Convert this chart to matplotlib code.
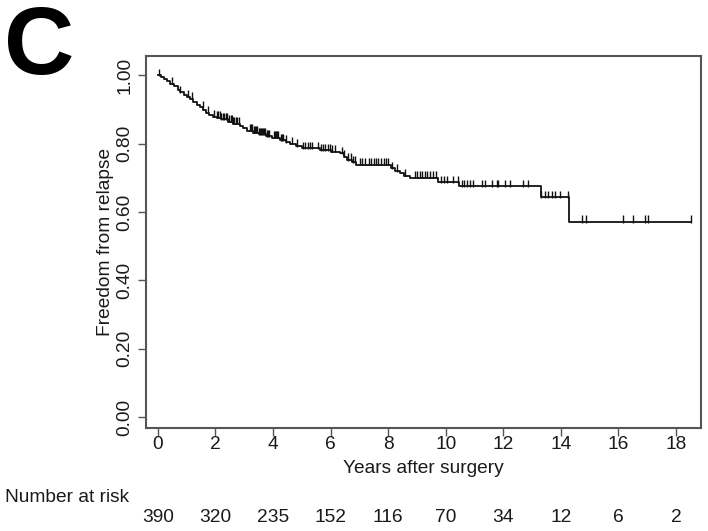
import numpy as np
import matplotlib
matplotlib.use("Agg")
import matplotlib.pyplot as plt
from matplotlib.transforms import blended_transform_factory

plt.rcParams['font.family'] = ['Liberation Sans', 'DejaVu Sans']

# Kaplan-Meier estimate: event times (years) and survival after each step
event_times = [0.10, 0.20, 0.30, 0.42, 0.55, 0.68, 0.76, 0.90, 1.00, 1.11,
               1.22, 1.35, 1.46, 1.58, 1.68, 1.76, 1.90, 2.04, 2.20, 2.43,
               2.60, 2.85, 2.95, 3.08, 3.30, 3.50, 3.75, 3.95, 4.24, 4.45,
               4.59, 4.80, 5.00, 5.63, 6.00, 6.32, 6.45, 6.56, 6.75, 6.90,
               8.10, 8.25, 8.40, 8.55, 8.75, 9.75, 10.45, 13.30, 14.30]
survival = [0.995, 0.990, 0.982, 0.975, 0.967, 0.957, 0.950, 0.943, 0.937, 0.931,
            0.922, 0.914, 0.906, 0.897, 0.890, 0.884, 0.879, 0.876, 0.871, 0.864,
            0.858, 0.852, 0.845, 0.838, 0.832, 0.827, 0.822, 0.817, 0.810, 0.805,
            0.800, 0.793, 0.786, 0.781, 0.776, 0.771, 0.762, 0.752, 0.745, 0.738,
            0.728, 0.720, 0.713, 0.706, 0.700, 0.687, 0.675, 0.643, 0.571]

# censored observations (years)
censor_times = [0.03, 0.49, 0.76, 1.04, 1.18, 1.56, 1.74, 1.95, 2.05, 2.10,
                2.15, 2.20, 2.26, 2.31, 2.36, 2.40, 2.47, 2.53, 2.58, 2.62,
                2.66, 2.72, 2.76, 2.80, 3.20, 3.24, 3.28, 3.33, 3.38, 3.42,
                3.46, 3.50, 3.53, 3.57, 3.60, 3.66, 3.70, 3.73, 3.80, 3.84,
                3.87, 4.02, 4.06, 4.10, 4.14, 4.18, 4.27, 4.31, 4.36, 4.45,
                4.65, 4.85, 5.05, 5.12, 5.20, 5.28, 5.36, 5.58, 5.66, 5.74,
                5.82, 5.90, 5.98, 6.06, 6.14, 6.40, 6.48, 6.62, 6.70, 6.78,
                6.86, 7.02, 7.10, 7.18, 7.32, 7.40, 7.50, 7.58, 7.66, 7.74,
                7.84, 7.92, 8.00, 8.15, 8.30, 8.60, 8.92, 9.00, 9.10, 9.18,
                9.28, 9.36, 9.45, 9.55, 9.65, 9.85, 9.95, 10.05, 10.25, 10.42,
                10.55, 10.65, 10.75, 10.85, 10.95, 11.25, 11.36, 11.60, 11.77, 11.82,
                12.06, 12.23, 12.68, 12.86, 13.30, 13.45, 13.55, 13.69, 13.79, 13.97,
                14.25, 14.72, 14.89, 16.17, 16.52, 16.92, 17.04, 18.54]

follow_up_end = 18.54

x_ticks = [0, 2, 4, 6, 8, 10, 12, 14, 16, 18]
y_ticks = [0.0, 0.2, 0.4, 0.6, 0.8, 1.0]
y_tick_labels = ["0.00", "0.20", "0.40", "0.60", "0.80", "1.00"]
at_risk = [390, 320, 235, 152, 116, 70, 34, 12, 6, 2]

fig = plt.figure(figsize=(7.08, 5.31), dpi=100)
ax = fig.add_axes([0.206, 0.194, 0.784, 0.7005])

box_color = "#555555"
line_color = "#111111"
text_color = "#1a1a1a"
fs = 13.8

# step curve
t = np.concatenate([[0.0], event_times, [follow_up_end]])
s = np.concatenate([[1.0], survival, [survival[-1]]])
ax.step(t, s, where="post", color=line_color, lw=1.3)

# censor marks sit on the curve
ct = np.array(censor_times)
idx = np.searchsorted(np.array(event_times), ct, side="right")
cs = np.concatenate([[1.0], survival])[idx]
ax.vlines(ct, cs - 0.002, cs + 0.019, color=line_color, lw=1.0)

ax.set_xlim(-0.42, 18.87)
ax.set_ylim(-0.032, 1.056)

ax.set_xticks(x_ticks)
ax.set_xticklabels([str(v) for v in x_ticks])
ax.set_yticks(y_ticks)
ax.set_yticklabels(y_tick_labels, rotation=90, va="center")

for sp in ax.spines.values():
    sp.set_color(box_color)
    sp.set_linewidth(1.5)
ax.tick_params(axis="both", direction="out", length=6, width=1.0,
               color=box_color, labelsize=fs, labelcolor=text_color)
ax.tick_params(axis="x", pad=0)
ax.tick_params(axis="y", pad=3)

ax.set_xlabel("Years after surgery", fontsize=fs, color=text_color, labelpad=5)
ax.set_ylabel("Freedom from relapse", fontsize=fs, color=text_color, labelpad=2)

# number at risk table
fig.text(0.007, 1 - 497 / 531, "Number at risk", fontsize=fs,
         color=text_color, ha="left", va="center")
trans = blended_transform_factory(ax.transData, fig.transFigure)
for xv, n in zip(x_ticks, at_risk):
    ax.text(xv, 1 - 518 / 531, str(n), transform=trans, fontsize=fs,
            color=text_color, ha="center", va="center", clip_on=False)

# panel letter
fig.text(0.006, 1 - 74 / 531, "C", fontsize=70, fontweight="bold",
         color="black", ha="left", va="baseline")

fig.savefig("out.png", dpi=100)
